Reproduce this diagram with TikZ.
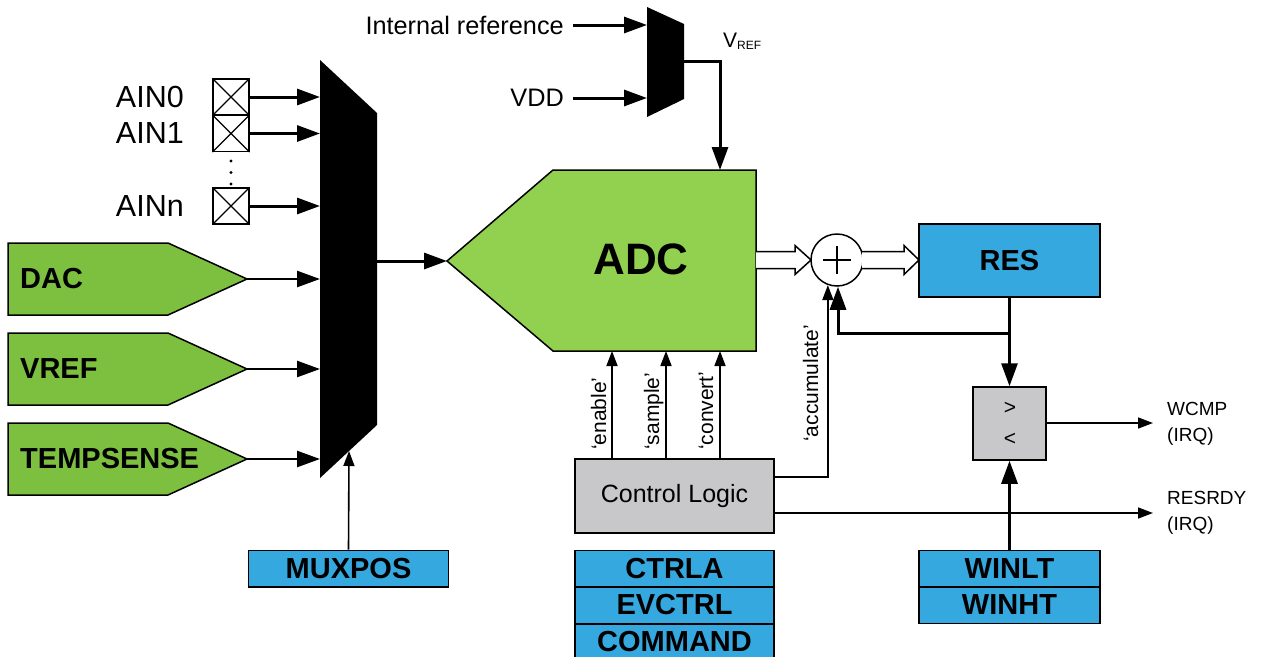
\documentclass[tikz,border=0pt]{standalone}
\usepackage{fontspec}
\setmainfont{Liberation Sans}
\usetikzlibrary{arrows.meta}
\definecolor{gside}{RGB}{125,191,62}
\definecolor{gadc}{RGB}{146,208,80}
\definecolor{bluereg}{RGB}{54,168,224}
\definecolor{grayblk}{RGB}{200,200,202}
\begin{document}
\begin{tikzpicture}[x=1pt,y=-1pt,
  thk/.style={line width=3pt,-{Triangle[length=23pt,width=16pt]}},
  thn/.style={line width=1.6pt,-{Triangle[length=15pt,width=11pt]}},
  bd/.style={line width=1.5pt},
  regbox/.style={draw,line width=1.5pt,fill=bluereg,minimum width=200pt,minimum height=36.5pt,inner sep=0pt,font=\fontsize{29}{30}\selectfont\bfseries},
  pin/.style={draw,line width=1.2pt,minimum size=36pt,inner sep=0pt},
  lbl/.style={font=\fontsize{30.5}{31}\selectfont},
  sig/.style={font=\fontsize{21}{21}\selectfont,rotate=90,anchor=base west,inner sep=0pt},
  glbl/.style={font=\fontsize{29}{30}\selectfont\bfseries,anchor=west,inner sep=0pt},
  gshape/.style={fill=gside,draw=black,line width=1.5pt}
]
\useasboundingbox (0,0) rectangle (1263,656);

% ---------- main input mux ----------
\fill (320,60) -- (377,113) -- (377,425) -- (320,478) -- cycle;
\coordinate (mout) at (377,261);
\coordinate (mposin) at (349,451);

% ---------- AIN pins ----------
\foreach \n/\y/\t in {ain0/97/AIN0, ain1/133.5/AIN1, ainn/206/AINn}{
  \node[pin] (\n) at (231,\y) {};
  \draw[line width=1.2pt] (\n.north west) -- (\n.south east) (\n.north east) -- (\n.south west);
  \node[lbl,anchor=east,inner sep=0pt] (\n l) at (184,\y) {\t};
  \coordinate (\n m) at (320,\y);
  \draw[thk] (\n.east) -- (\n m);
}
\foreach \y in {161,172.5,184}{\fill (231,\y) circle (1.7pt);}

% ---------- green sources ----------
\foreach \n/\y/\t in {dac/279/DAC, vref/369/VREF, temp/459/TEMPSENSE}{
  \filldraw[gshape] (8,\y-36) -- (168,\y-36) -- (247,\y) -- (168,\y+36) -- (8,\y+36) -- cycle;
  \node[glbl] (\n) at (20,\y) {\t};
  \coordinate (\n t) at (247,\y);
  \coordinate (\n m) at (320,\y);
  \draw[line width=2.5pt,-{Triangle[length=23pt,width=16pt]}] (\n t) -- (\n m);
}

% ---------- MUXPOS ----------
\node[regbox] (muxpos) at (348.5,568.5) {MUXPOS};
\draw[thn] (muxpos.north) -- (mposin);

% ---------- reference mux ----------
\fill (647,7) -- (684,24) -- (684,99) -- (647,117) -- cycle;
\coordinate (rin1) at (647,25);
\coordinate (rin2) at (647,98);
\coordinate (rout) at (684,61);
\node[font=\fontsize{25.3}{26}\selectfont,anchor=east,inner sep=0pt] (intref) at (564,25) {Internal reference};
\node[font=\fontsize{25.3}{26}\selectfont,anchor=east,inner sep=0pt] (vdd) at (564,98) {VDD};
\draw[thk] ([xshift=9pt]intref.east) -- (rin1);
\draw[thk] ([xshift=9pt]vdd.east) -- (rin2);
\node[anchor=base west,inner sep=0pt] (vreflbl) at (723,47) {\fontsize{21}{21}\selectfont V\raisebox{-2pt}{\fontsize{12}{12}\selectfont REF}};

% ---------- ADC ----------
\filldraw[fill=gadc,draw=black,bd] (447,261) -- (553,170) -- (756,170) -- (756,351) -- (553,351) -- cycle;
\coordinate (adctip) at (447,261);
\coordinate (adctop) at (720,170);
\coordinate (adcbot) at (0,351);
\node[font=\fontsize{44}{44}\selectfont\bfseries,inner sep=0pt] (adc) at (641,259) {ADC};
\draw[thk] (mout) -- (adctip);
\draw[thk] (rout) -| (adctop);

% ---------- sum ----------
\node[draw,circle,bd,minimum size=52pt,inner sep=0pt,fill=white] (sum) at (837,260) {};
\draw[line width=1.5pt] ([xshift=-14pt]sum.center) -- ([xshift=14pt]sum.center)
  ([yshift=-14pt]sum.center) -- ([yshift=14pt]sum.center);

% hollow arrows
\filldraw[fill=white,bd,line join=miter] (756,251.5) -- (795,251.5) -- (795,245.5) -- (811,260) -- (795,274.5) -- (795,268.5) -- (756,268.5);
\filldraw[fill=white,bd,line join=miter] (862,251.5) -- (904,251.5) -- (904,245.5) -- (919,260) -- (904,274.5) -- (904,268.5) -- (862,268.5);

% ---------- RES ----------
\node[draw,bd,fill=bluereg,minimum width=181pt,minimum height=73pt,inner sep=0pt,font=\fontsize{29}{30}\selectfont\bfseries] (res) at (1009.5,260.5) {RES};

% ---------- comparator ----------
\node[draw,bd,fill=grayblk,minimum size=73pt,inner sep=0pt] (cmp) at (1009.5,423.5) {};
\node[font=\fontsize{21}{21}\selectfont,inner sep=0pt] (gt) at (1010,408) {>};
\node[font=\fontsize{21}{21}\selectfont,inner sep=0pt] (lt) at (1010,439) {<};

\coordinate (fb) at (1010,333);
\draw[thk] (res.south) -- (cmp.north);
\draw[thk] (fb) -| ([xshift=1pt]sum.south);

% ---------- WINLT / WINHT ----------
\node[regbox,minimum width=181pt] (winlt) at (1009.5,568.5) {WINLT};
\node[regbox,minimum width=181pt] (winht) at (1009.5,605) {WINHT};

% ---------- Control logic ----------
\node[draw,bd,fill=grayblk,minimum width=199pt,minimum height=74pt,inner sep=0pt,font=\fontsize{25}{25}\selectfont] (ctrl) at (674.5,496) {Control Logic};

\coordinate (wcmpend) at (1153,423);
\coordinate (rdyend) at (1153,513);
\draw[thn] (ctrl.east |- rdyend) -- (rdyend);
\draw[thk] (winlt.north) -- (cmp.south);
\draw[thn] (cmp.east |- wcmpend) -- (wcmpend);
\node[font=\fontsize{19}{26}\selectfont,align=left,anchor=west,inner sep=0pt] (wcmp) at (1167,424) {WCMP\\(IRQ)};
\node[font=\fontsize{19}{26}\selectfont,align=left,anchor=west,inner sep=0pt] (rdy) at (1167,513) {RESRDY\\(IRQ)};

% control signals
\draw[thn] (ctrl.north -| 612,0) -- (adcbot -| 612,0);
\draw[thn] (ctrl.north -| 666,0) -- (adcbot -| 666,0);
\draw[thn] (ctrl.north -| 720,0) -- (adcbot -| 720,0);
\node[sig] (sen) at (606,450) {‘enable’};
\node[sig] (ssa) at (659,450) {‘sample’};
\node[sig] (sco) at (713,450) {‘convert’};
\coordinate (accy) at (0,477);
\draw[thn] (ctrl.east |- accy) -| (sum.-110);
\node[sig] (sac) at (818,442) {‘accumulate’};

% ---------- CTRLA / EVCTRL / COMMAND ----------
\node[regbox,minimum width=199pt] (ctrla) at (674.5,568.5) {CTRLA};
\node[regbox,minimum width=199pt] (evctrl) at (674.5,605) {EVCTRL};
\node[regbox,minimum width=199pt,anchor=north] (command) at (674.5,623) {COMMAND};
\end{tikzpicture}
\end{document}
